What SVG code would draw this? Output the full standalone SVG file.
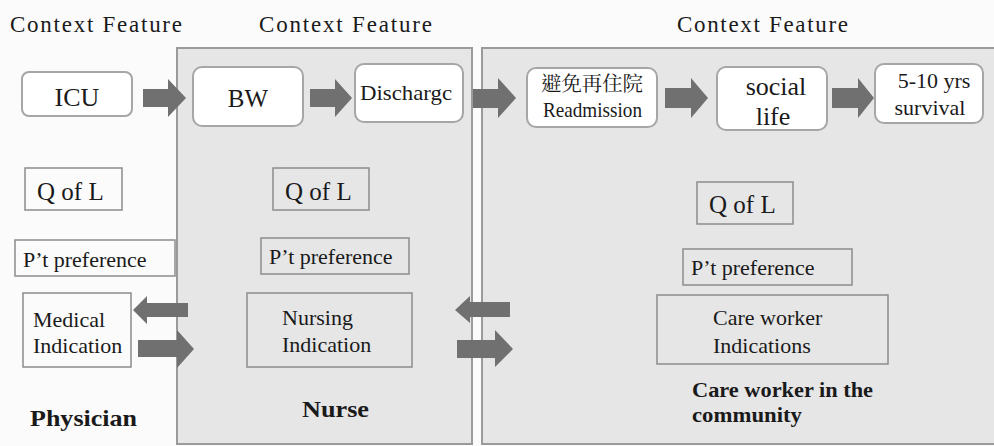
<svg xmlns="http://www.w3.org/2000/svg" width="994" height="446" viewBox="0 0 994 446">
<rect width="994" height="446" fill="#fbfbfb"/>
<g id="panels" fill="#e6e6e6" stroke="#9a9a9a" stroke-width="2">
<rect x="177" y="48" width="295" height="396"/>
<rect x="482" y="48" width="514" height="396"/>
</g>
<g id="nodes" fill="#1a1a1a" font-family="Liberation Serif">
<g id="headers" font-size="23">
<text font-family="Liberation Serif" x="10" y="32" textLength="172" lengthAdjust="spacing">Context Feature</text>
<text font-family="Liberation Serif" x="259" y="32" textLength="173" lengthAdjust="spacing">Context Feature</text>
<text font-family="Liberation Serif" x="677" y="32" textLength="171" lengthAdjust="spacing">Context Feature</text>
</g>
<g id="icu"><rect fill="#ffffff" stroke="#a6a6a6" stroke-width="2" x="22" y="72" width="110" height="44" rx="7"/><text font-family="Liberation Serif" x="77" y="106" font-size="26" text-anchor="middle">ICU</text></g>
<g id="bw"><rect fill="#ffffff" stroke="#a6a6a6" stroke-width="2" x="193" y="67" width="110" height="59" rx="9"/><text font-family="Liberation Serif" x="248" y="107" font-size="25" text-anchor="middle">BW</text></g>
<g id="discharge"><rect fill="#ffffff" stroke="#a6a6a6" stroke-width="2" x="355" y="64" width="108" height="58" rx="9"/><text font-family="Liberation Serif" x="360" y="100" font-size="21" textLength="92" lengthAdjust="spacingAndGlyphs">Dischargc</text></g>
<g id="readmission"><rect fill="#ffffff" stroke="#a6a6a6" stroke-width="2" x="527" y="68" width="130" height="59" rx="9"/><text font-family="Noto Serif CJK TC" x="541" y="91" font-size="20" textLength="102" lengthAdjust="spacingAndGlyphs">避免再住院</text><text font-family="Liberation Serif" x="543" y="117" font-size="21" textLength="99" lengthAdjust="spacingAndGlyphs">Readmission</text></g>
<g id="social"><rect fill="#ffffff" stroke="#a6a6a6" stroke-width="2" x="717" y="67" width="110" height="63" rx="9"/><text font-family="Liberation Serif" x="776" y="95" font-size="26" text-anchor="middle">social</text><text font-family="Liberation Serif" x="773" y="125" font-size="26" text-anchor="middle">life</text></g>
<g id="survival"><rect fill="#ffffff" stroke="#a6a6a6" stroke-width="2" x="875" y="64" width="108" height="59" rx="9"/><text font-family="Liberation Serif" x="934" y="88" font-size="22" text-anchor="middle">5-10 yrs</text><text font-family="Liberation Serif" x="930" y="115" font-size="22" text-anchor="middle">survival</text></g>
<g id="qol1"><rect fill="none" stroke="#8c8c8c" stroke-width="1.5" x="25" y="168" width="97" height="42"/><text font-family="Liberation Serif" x="37" y="200" font-size="25">Q of L</text></g>
<g id="qol2"><rect fill="none" stroke="#8c8c8c" stroke-width="1.5" x="273" y="168" width="96" height="42"/><text font-family="Liberation Serif" x="285" y="200" font-size="25">Q of L</text></g>
<g id="qol3"><rect fill="none" stroke="#8c8c8c" stroke-width="1.5" x="697" y="182" width="96" height="42"/><text font-family="Liberation Serif" x="709" y="213" font-size="25">Q of L</text></g>
<g id="pref1"><rect fill="none" stroke="#8c8c8c" stroke-width="1.5" x="15" y="240" width="160" height="36"/><text font-family="Liberation Serif" x="23" y="267" font-size="22">P’t preference</text></g>
<g id="pref2"><rect fill="none" stroke="#8c8c8c" stroke-width="1.5" x="261" y="238" width="148" height="36"/><text font-family="Liberation Serif" x="269" y="264" font-size="22">P’t preference</text></g>
<g id="pref3"><rect fill="none" stroke="#8c8c8c" stroke-width="1.5" x="683" y="249" width="169" height="36"/><text font-family="Liberation Serif" x="691" y="275" font-size="22">P’t preference</text></g>
<g id="medical"><rect fill="none" stroke="#8c8c8c" stroke-width="1.5" x="23" y="293" width="108" height="74"/><text font-family="Liberation Serif" x="33" y="327" font-size="22">Medical</text><text font-family="Liberation Serif" x="33" y="353" font-size="22">Indication</text></g>
<g id="nursing"><rect fill="none" stroke="#8c8c8c" stroke-width="1.5" x="247" y="293" width="165" height="74"/><text font-family="Liberation Serif" x="282" y="325" font-size="22">Nursing</text><text font-family="Liberation Serif" x="282" y="352" font-size="22">Indication</text></g>
<g id="careworker"><rect fill="none" stroke="#8c8c8c" stroke-width="1.5" x="657" y="295" width="231" height="69"/><text font-family="Liberation Serif" x="713" y="325" font-size="22">Care worker</text><text font-family="Liberation Serif" x="713" y="353" font-size="22">Indications</text></g>
<g id="physician"><text font-family="Liberation Serif" font-weight="bold" x="30" y="426" font-size="23" textLength="107" lengthAdjust="spacingAndGlyphs">Physician</text></g>
<g id="nurse"><text font-family="Liberation Serif" font-weight="bold" x="302" y="417" font-size="24" textLength="67" lengthAdjust="spacingAndGlyphs">Nurse</text></g>
<g id="community"><text font-family="Liberation Serif" font-weight="bold" x="692" y="397" font-size="22" textLength="181" lengthAdjust="spacingAndGlyphs">Care worker in the</text><text font-family="Liberation Serif" font-weight="bold" x="692" y="422" font-size="22" textLength="110" lengthAdjust="spacingAndGlyphs">community</text></g>
</g>
<g id="connectors" fill="#707070">
<polygon points="143,89 168,89 168,79 186,98 168,117 168,107 143,107"/>
<polygon points="310,89 335,89 335,79 352,98 335,117 335,107 310,107"/>
<polygon points="473,89 498,89 498,78 516,98 498,118 498,108 473,108"/>
<polygon points="665,88 691,88 691,78 708,98 691,118 691,108 665,108"/>
<polygon points="832,88 858,88 858,78 874,98 858,118 858,108 832,108"/>
<polygon points="188,303 147,303 147,296 133,310 147,324 147,317 188,317"/>
<polygon points="138,340 177,340 177,330 194,349 177,368 177,357 138,357"/>
<polygon points="510,302 470,302 470,296 455,310 470,323 470,317 510,317"/>
<polygon points="457,340 495,340 495,330 513,349 495,367 495,358 457,358"/>
</g>
</svg>
